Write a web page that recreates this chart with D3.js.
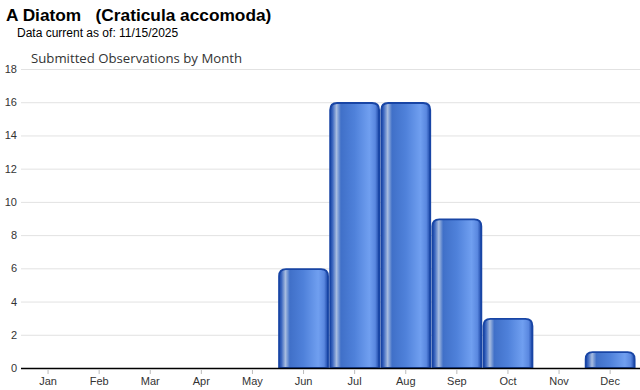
<!DOCTYPE html>
<html><head><meta charset="utf-8">
<script src="https://cdn.jsdelivr.net/npm/d3@7"></script>
<style>body{margin:0;background:#fff;}svg{display:block;}</style>
</head><body>
<svg id="c" width="640" height="390"></svg>
<script>
const months = ["Jan","Feb","Mar","Apr","May","Jun","Jul","Aug","Sep","Oct","Nov","Dec"];
const counts = [0,0,0,0,0,6,16,16,9,3,0,1];
const yTicks = [0,2,4,6,8,10,12,14,16,18];
const titleText = "A Diatom\u00a0\u00a0\u00a0(Craticula accomoda)";
const subText = "Data current as of: 11/15/2025";
const chartTitle = "Submitted Observations by Month";

const svg = d3.select("#c");
const defs = svg.append("defs");
const g = defs.append("linearGradient").attr("id","bar").attr("x1","0").attr("x2","1").attr("y1","0").attr("y2","0");
[[0,"#1a45a5"],[0.05,"#3d68c0"],[0.13,"#a8bde0"],[0.22,"#4070c8"],[0.5,"#4f81da"],[0.8,"#709ff0"],[0.92,"#5a88e0"],[1,"#1a45a5"]]
  .forEach(([o,c])=>g.append("stop").attr("offset",o).attr("stop-color",c));

const x = d3.scaleBand().domain(months).range([22.5,635.7]).paddingInner(0.01).paddingOuter(0.005);
const y = d3.scaleLinear().domain([0,18]).range([368,69]);

// gridlines
svg.append("g").selectAll("line").data(yTicks.filter(d=>d>0)).join("line")
  .attr("x1",21).attr("x2",640).attr("y1",d=>y(d)+0.5).attr("y2",d=>y(d)+0.5)
  .attr("stroke","#e2e2e2").attr("stroke-width",1);

// y labels
svg.append("g").selectAll("text").data(yTicks).join("text")
  .attr("x",17).attr("y",d=>y(d)+4).attr("text-anchor","end")
  .attr("font-family","Liberation Sans, Arial, sans-serif").attr("font-size",11).attr("fill","#333")
  .text(d=>d);

// bars
const r = 7;
function barPath(x0,w,yt,yb){
  const h = yb-yt; const rr = Math.min(r,h,w/2);
  return `M${x0},${yb} L${x0},${yt+rr} Q${x0},${yt} ${x0+rr},${yt} L${x0+w-rr},${yt} Q${x0+w},${yt} ${x0+w},${yt+rr} L${x0+w},${yb} Z`;
}
svg.append("g").selectAll("path").data(months.map((m,i)=>({m,v:counts[i]})).filter(d=>d.v>0)).join("path")
  .attr("d",d=>barPath(x(d.m)+0.8,x.bandwidth()-1.6,y(d.v)+0.8,y(0)))
  .attr("fill","url(#bar)").attr("stroke","#1845a5").attr("stroke-width",1.8);

// baseline
svg.append("line").attr("x1",21).attr("x2",640).attr("y1",y(0)+0.5).attr("y2",y(0)+0.5)
  .attr("stroke","#000").attr("stroke-width",1.6);

// x axis ticks and labels
const xa = svg.append("g");
xa.selectAll("line").data(months).join("line")
  .attr("x1",d=>x(d)+x.bandwidth()/2).attr("x2",d=>x(d)+x.bandwidth()/2)
  .attr("y1",370).attr("y2",374).attr("stroke","#bbb");
xa.selectAll("text").data(months).join("text")
  .attr("x",d=>x(d)+x.bandwidth()/2).attr("y",385).attr("text-anchor","middle")
  .attr("font-family","Liberation Sans, Arial, sans-serif").attr("font-size",11).attr("fill","#333")
  .text(d=>d);

// titles
svg.append("text").attr("x",6).attr("y",21).attr("font-family","Liberation Sans, Arial, sans-serif")
  .attr("font-weight","bold").attr("font-size",17.3).attr("fill","#000").text(titleText);
svg.append("text").attr("x",17).attr("y",37).attr("font-family","Liberation Sans, Arial, sans-serif")
  .attr("font-size",12).attr("fill","#000").text(subText);
svg.append("text").attr("x",31).attr("y",63).attr("font-family","Open Sans, DejaVu Sans, sans-serif")
  .attr("font-size",13.2).attr("fill","#333").text(chartTitle);
</script>
</body></html>
